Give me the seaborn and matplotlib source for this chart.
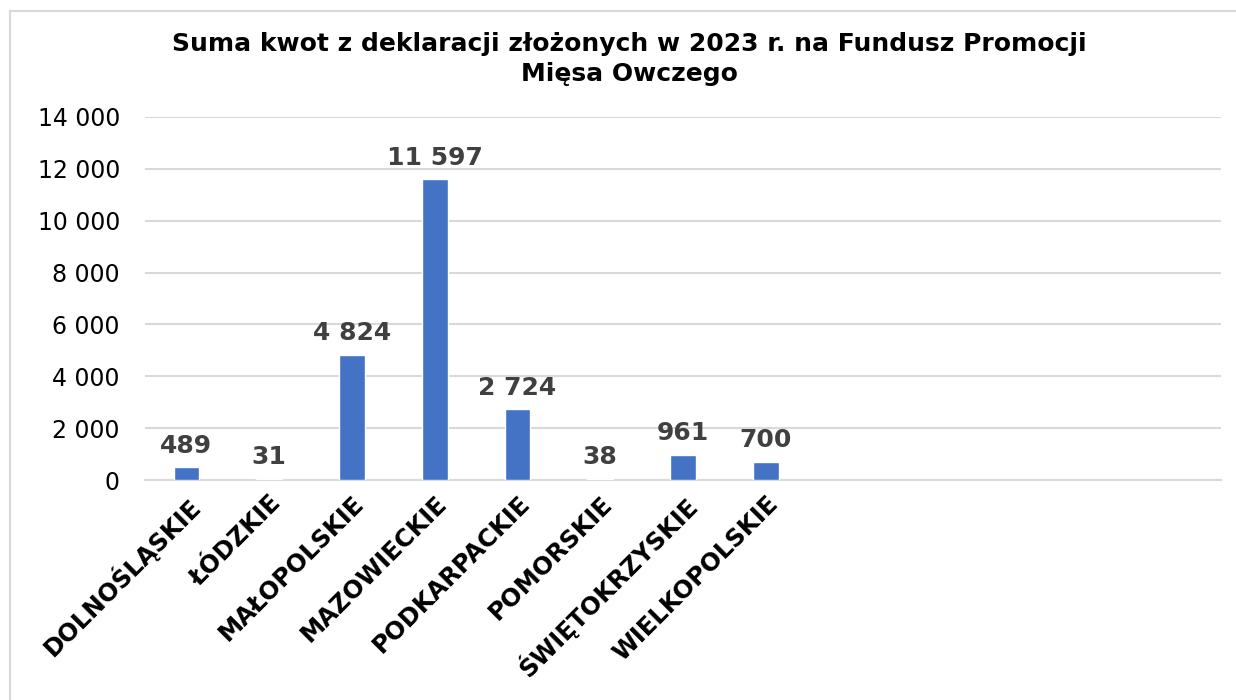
import matplotlib
matplotlib.use("Agg")
import matplotlib.pyplot as plt
import seaborn as sns
import pandas as pd
from matplotlib.lines import Line2D

categories = ["DOLNOŚLĄSKIE", "ŁÓDZKIE", "MAŁOPOLSKIE", "MAZOWIECKIE",
              "PODKARPACKIE", "POMORSKIE", "ŚWIĘTOKRZYSKIE", "WIELKOPOLSKIE"]
values = [489, 31, 4824, 11597, 2724, 38, 961, 700]
yticks = [0, 2000, 4000, 6000, 8000, 10000, 12000, 14000]
title = "Suma kwot z deklaracji złożonych w 2023 r. na Fundusz Promocji\nMięsa Owczego"

sns.set_theme(style="white")
plt.rcParams['font.family'] = ['DejaVu Sans']

df = pd.DataFrame({"cat": categories, "val": values})

fig = plt.figure(figsize=(12.36, 7.0), dpi=100)
ax = fig.add_axes([145/1236, 1-480/700, (1221-145)/1236, (480-117)/700])

sns.barplot(data=df, x="cat", y="val", color="#4472C4", width=0.31,
            saturation=1, ax=ax, zorder=3)

ax.set_xlim(-0.5, 12.5)
ax.set_ylim(0, 14000)
ax.set_yticks(yticks)
ax.set_yticklabels([f"{v:,}".replace(",", " ") for v in yticks], fontsize=17, color="#000000")
ax.yaxis.grid(True, color="#D9D9D9", linewidth=1.5, zorder=0)
ax.xaxis.grid(False)
for s in ["top", "right", "left"]:
    ax.spines[s].set_visible(False)
ax.spines["bottom"].set_color("#D9D9D9")
ax.spines["bottom"].set_linewidth(1.5)
ax.tick_params(axis="both", length=0)
ax.tick_params(axis="y", pad=18)
ax.set_xlabel("")
ax.set_ylabel("")

ax.set_xticks(range(len(categories)))
ax.set_xticklabels(categories, rotation=45, ha="right", rotation_mode="anchor",
                   fontsize=17.5, fontweight="bold", color="#000000")
ax.tick_params(axis="x", pad=8)

for i, v in enumerate(values):
    ax.annotate(f"{v:,}".replace(",", " "), (i, v), xytext=(0, 7),
                textcoords="offset points", ha="center", va="bottom",
                fontsize=18, fontweight="bold", color="#404040")

fig.text(629/1236, 1-59/700, title, ha="center", va="center",
         fontsize=18, fontweight="bold", color="#000000", linespacing=1.3)

fig.add_artist(Line2D([10/1236, 1], [1-11/700, 1-11/700], color="#D9D9D9", lw=1.5, transform=fig.transFigure))
fig.add_artist(Line2D([10/1236, 10/1236], [0, 1-11/700], color="#D9D9D9", lw=1.5, transform=fig.transFigure))

fig.savefig("out.png", dpi=100, facecolor="white")
